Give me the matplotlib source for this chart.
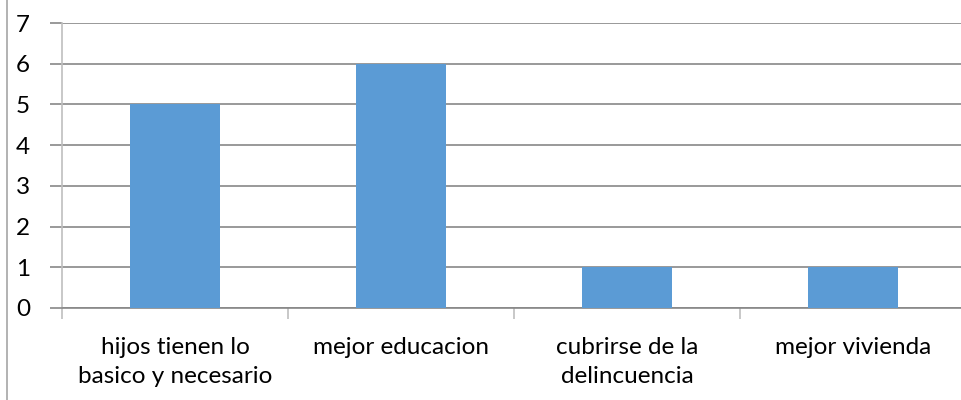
import matplotlib.pyplot as plt
from matplotlib.lines import Line2D

categories = ["hijos tienen lo\nbasico y necesario", "mejor educacion",
              "cubrirse de la\ndelincuencia", "mejor vivienda"]
values = [5, 6, 1, 1]
y_ticks = [0, 1, 2, 3, 4, 5, 6, 7]

plt.rcParams['font.family'] = ['Lato', 'DejaVu Sans']
FS = 17.5

W, H = 961, 400
fig = plt.figure(figsize=(W / 100, H / 100), dpi=100)
# plot area: x 62..966 px (clipped at right edge), y 23..308 px
ax = fig.add_axes([62 / W, (H - 308) / H, 904 / W, 285 / H])

pos = [i + 0.5 for i in range(len(categories))]
ax.bar(pos, values, width=0.4, color='#5b9bd5', zorder=3)

ax.set_xlim(0, len(categories))
ax.set_ylim(0, 7)
ax.set_yticks(y_ticks)
ax.set_yticklabels([str(v) for v in y_ticks])
ax.yaxis.grid(True, color='#878787', linewidth=1.2, zorder=0)
ax.tick_params(axis='y', length=9, color='#878787', width=1.2, pad=14, labelsize=FS)

# category labels centred, separators as ticks
ax.set_xticks(range(len(categories) + 1))
ax.set_xticklabels([''] * (len(categories) + 1))
ax.tick_params(axis='x', length=8, color='#bfbfbf', width=1.2)
for p, lab in zip(pos, categories):
    ax.text(p, -0.70, lab, ha='center', va='top', fontsize=FS,
            linespacing=1.5, transform=ax.transData)

for s in ['top', 'right']:
    ax.spines[s].set_visible(False)
ax.spines['left'].set_color('#bfbfbf')
ax.spines['left'].set_linewidth(1.2)
ax.spines['bottom'].set_color('#878787')
ax.spines['bottom'].set_linewidth(1.2)

# outer chart border on the left
fig.add_artist(Line2D([7 / W, 7 / W], [0, 1], color='#a6a6a6', linewidth=1.2))

fig.savefig('out.png', dpi=100)
